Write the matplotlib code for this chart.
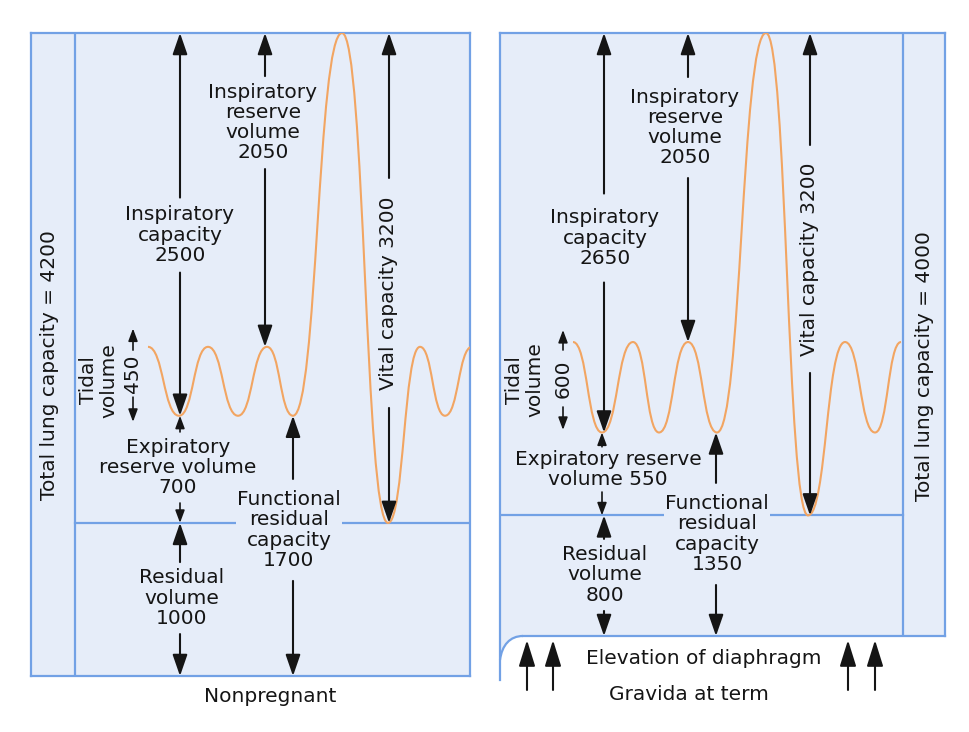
import matplotlib.pyplot as plt
from matplotlib.path import Path
from matplotlib.patches import PathPatch

FILL = "#e6edf9"
EDGE = "#72a1e5"
ORANGE = "#f2a562"
INK = "#151515"
FS = 14.5
LS = 1.08

# Nonpregnant volumes (mL)
np_rv, np_erv, np_tv, np_irv = 1000, 700, 450, 2050
np_ic, np_frc, np_vc, np_tlc = 2500, 1700, 3200, 4200
# Gravida at term (mL)
gr_rv, gr_erv, gr_tv, gr_irv = 800, 550, 600, 2050
gr_ic, gr_frc, gr_vc, gr_tlc = 2650, 1350, 3200, 4000

# spirogram turning points (time axis) and what each one is
np_t = [148, 179, 208, 238, 267, 293, 342, 388, 420, 445, 472]
gr_t = [573, 602, 633, 659, 688, 717, 766, 808, 845, 875, 901]
breath = ["in", "ex", "in", "ex", "in", "ex", "max", "min", "in", "ex", "in"]

BIG = "-|>,head_length=1.3,head_width=0.45"
SMALL = "-|>,head_length=0.75,head_width=0.28"

W, H = 970, 732
fig = plt.figure(figsize=(W / 100, H / 100), dpi=100)


def place(x0, x1, y0, y1):
    return fig.add_axes([x0 / W, 1 - y1 / H, (x1 - x0) / W, (y1 - y0) / H])


def arrow(ax, x, y0, y1, head=BIG, lw=1.5):
    ax.annotate("", xy=(x, y1), xytext=(x, y0),
                arrowprops=dict(arrowstyle=head, lw=lw, color=INK,
                                shrinkA=0, shrinkB=0, mutation_scale=10),
                annotation_clip=False)


def span(ax, x, lo, hi, text, ty, gap, tx=None, head=BIG, lw=1.5, rot=0, bg=False):
    tx = x if tx is None else tx
    arrow(ax, x, ty + gap / 2, hi, head, lw)
    arrow(ax, x, ty - gap / 2, lo, head, lw)
    box = dict(fc=FILL, ec="none", pad=1) if bg else None
    ax.text(tx, ty, text, ha="center", va="center", rotation=rot, linespacing=LS,
            fontsize=FS, color=INK, bbox=box, zorder=4)


def label(ax, x, y, text, rot=0):
    ax.text(x, y, text, ha="center", va="center", rotation=rot, linespacing=LS,
            fontsize=FS, color=INK, clip_on=False)


def trace(ax, t, kinds, levels, k=0.5):
    ys = [levels[s] for s in kinds]
    verts = [(t[0], ys[0])]
    codes = [Path.MOVETO]
    for (x0, y0), (x1, y1) in zip(zip(t, ys), zip(t[1:], ys[1:])):
        d = x1 - x0
        verts += [(x0 + k * d, y0), (x1 - k * d, y1), (x1, y1)]
        codes += [Path.CURVE4] * 3
    ax.add_patch(PathPatch(Path(verts, codes), fill=False, ec=ORANGE, lw=1.5, zorder=3))


axL = place(31, 470, 33, 676)
axL.set_xlim(31, 470)
axL.set_ylim(0, np_tlc)
axR = place(500, 945, 33, 636)
axR.set_xlim(500, 945)
axR.set_ylim(0, gr_tlc)

for ax in (axL, axR):
    ax.set_facecolor(FILL)
    ax.set_xticks([])
    ax.set_yticks([])
    for s in ax.spines.values():
        s.set_color(EDGE)
        s.set_linewidth(1.6)

# ---- Nonpregnant ----
axL.axvline(75, color=EDGE, lw=1.6)
axL.plot([75, 470], [np_rv, np_rv], color=EDGE, lw=1.6)
trace(axL, np_t, breath, {"in": np_frc + np_tv, "ex": np_frc, "max": np_tlc, "min": np_rv})

span(axL, 180, np_frc, np_tlc, f"Inspiratory\ncapacity\n{np_ic}", 2880, 490)
span(axL, 265, np_frc + np_tv, np_tlc, f"Inspiratory\nreserve\nvolume\n{np_irv}", 3615, 607, tx=263)
span(axL, 389, np_rv, np_tlc, f"Vital capacity {np_vc}", 2502, 1502, rot=90)
span(axL, 180, np_rv, np_frc, f"Expiratory\nreserve volume\n{np_erv}", 1362, 464,
     tx=178, head=SMALL, lw=1.2)
span(axL, 180, 0, np_rv, f"Residual\nvolume\n{np_rv}", 509, 470, tx=182)
span(axL, 293, 0, np_frc, f"Functional\nresidual\ncapacity\n{np_frc}", 954, 666, tx=289, bg=True)
span(axL, 133, np_frc - 40, np_frc + np_tv + 120, f"{np_tv}", 1975, 307,
     head=SMALL, lw=1.2, rot=90)
label(axL, 99, 1933, "Tidal\nvolume", rot=90)
label(axL, 50, 2031, f"Total lung capacity = {np_tlc}", rot=90)
label(axL, 270, -137, "Nonpregnant")

# ---- Gravida at term ----
axR.spines["left"].set_visible(False)
axR.spines["bottom"].set_visible(False)
axR.plot([500, 500], [-292, gr_tlc], color=EDGE, lw=1.6, clip_on=False)
axR.plot([523, 945], [0, 0], color=EDGE, lw=1.6, clip_on=False)
corner = Path([(523, 0), (510, 0), (502, -60), (500, -159), (500, 0), (523, 0)],
              [Path.MOVETO, Path.CURVE4, Path.CURVE4, Path.CURVE4, Path.LINETO, Path.CLOSEPOLY])
axR.add_patch(PathPatch(corner, fc=FILL, ec="none", clip_on=False))
edge = Path([(523, 0), (510, 0), (502, -60), (500, -159)],
            [Path.MOVETO, Path.CURVE4, Path.CURVE4, Path.CURVE4])
axR.add_patch(PathPatch(edge, fill=False, ec=EDGE, lw=1.6, clip_on=False))

axR.axvline(903, color=EDGE, lw=1.6)
axR.plot([500, 903], [gr_rv, gr_rv], color=EDGE, lw=1.6)
trace(axR, gr_t, breath, {"in": gr_frc + gr_tv, "ex": gr_frc, "max": gr_tlc, "min": gr_rv})

span(axR, 604, gr_frc, gr_tlc, f"Inspiratory\ncapacity\n{gr_ic}", 2640, 590, tx=605)
span(axR, 688, gr_frc + gr_tv, gr_tlc, f"Inspiratory\nreserve\nvolume\n{gr_irv}", 3373, 670, tx=685)
span(axR, 810, gr_rv, gr_tlc, f"Vital capacity {gr_vc}", 2501, 1512, rot=90)
span(axR, 602, gr_rv, gr_frc, f"Expiratory reserve\nvolume {gr_erv}", 1105, 300,
     tx=608, head=SMALL, lw=1.2)
span(axR, 604, 0, gr_rv, f"Residual\nvolume\n{gr_rv}", 405, 478, tx=605)
span(axR, 716, 0, gr_frc, f"Functional\nresidual\ncapacity\n{gr_frc}", 677, 677, tx=717, bg=True)
span(axR, 563, gr_frc + 17, gr_frc + gr_tv + 80, f"{gr_tv}", 1708, 378,
     head=SMALL, lw=1.2, rot=90)
label(axR, 525, 1698, "Tidal\nvolume", rot=90)
label(axR, 925, 1791, f"Total lung capacity = {gr_tlc}", rot=90)

for x in [527, 553, 848, 875]:
    arrow(axR, x, -358, -27, head="-|>,head_length=1.6,head_width=0.5")
label(axR, 704, -146, "Elevation of diaphragm")
label(axR, 689, -391, "Gravida at term")

fig.savefig("out.png", dpi=100)
